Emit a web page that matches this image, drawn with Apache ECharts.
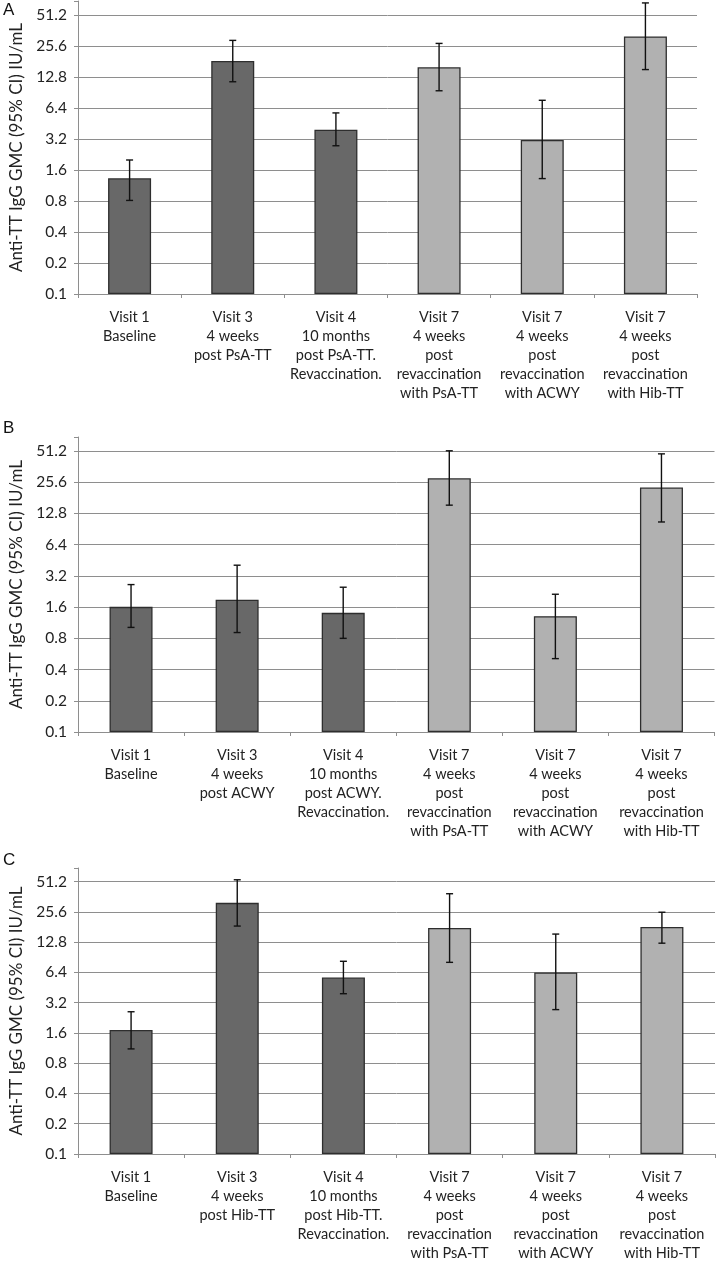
<!DOCTYPE html>
<html>
<head>
<meta charset="utf-8">
<script src="https://cdn.jsdelivr.net/npm/echarts@6/dist/echarts.min.js"></script>
<style>
html,body{margin:0;padding:0;background:#fff;}
#chart{width:716px;height:1263px;}
</style>
</head>
<body>
<div id="chart"></div>
<script>
// ---- data ----
const tickLabels = ['0.1','0.2','0.4','0.8','1.6','3.2','6.4','12.8','25.6','51.2'];
const yAxisTitle = 'Anti-TT IgG GMC (95% CI) IU/mL';
const panelLetters = ['A','B','C'];

const categoriesA = ['Visit 1\nBaseline','Visit 3\n4 weeks\npost PsA-TT','Visit 4\n10 months\npost PsA-TT.\nRevaccination.','Visit 7\n4 weeks\npost\nrevaccination\nwith PsA-TT','Visit 7\n4 weeks\npost\nrevaccination\nwith ACWY','Visit 7\n4 weeks\npost\nrevaccination\nwith Hib-TT'];
const categoriesB = ['Visit 1\nBaseline','Visit 3\n4 weeks\npost ACWY','Visit 4\n10 months\npost ACWY.\nRevaccination.','Visit 7\n4 weeks\npost\nrevaccination\nwith PsA-TT','Visit 7\n4 weeks\npost\nrevaccination\nwith ACWY','Visit 7\n4 weeks\npost\nrevaccination\nwith Hib-TT'];
const categoriesC = ['Visit 1\nBaseline','Visit 3\n4 weeks\npost Hib-TT','Visit 4\n10 months\npost Hib-TT.\nRevaccination.','Visit 7\n4 weeks\npost\nrevaccination\nwith PsA-TT','Visit 7\n4 weeks\npost\nrevaccination\nwith ACWY','Visit 7\n4 weeks\npost\nrevaccination\nwith Hib-TT'];

const gmcA   = [1.33, 18.3, 3.94, 15.9, 3.13, 31.7];
const lowerA = [0.81, 11.5, 2.75, 9.4, 1.32, 15.1];
const upperA = [2.0, 29.0, 5.73, 27.1, 7.6, 67];

const gmcB   = [1.61, 1.89, 1.41, 28.0, 1.31, 22.8];
const lowerB = [1.02, 0.91, 0.80, 15.4, 0.51, 10.6];
const upperB = [2.64, 4.06, 2.49, 51.5, 2.13, 48.1];

const gmcC   = [1.71, 31.5, 5.69, 17.7, 6.40, 18.1];
const lowerC = [1.11, 18.5, 3.93, 8.06, 2.73, 12.5];
const upperC = [2.60, 53.4, 8.26, 38.8, 15.4, 25.4];

// visits 1-4 are primary (dark), visit 7 revaccination (light)
const isRevaccination = [false, false, false, true, true, true];

// ---- build ----
const BASE = 0.1;
const t = v => Math.log2(v / BASE);
const DARK = '#686868', LIGHT = '#b1b1b1';
const GRID = '#8e8e8e';
const FONT = 'Lato';

const panels = [
  {cats: categoriesA, gmc: gmcA, lo: lowerA, hi: upperA, grid: {left: 69, top: 1, right: 19, height: 293}},
  {cats: categoriesB, gmc: gmcB, lo: lowerB, hi: upperB, grid: {left: 69, top: 437, right: 1.5, height: 295}},
  {cats: categoriesC, gmc: gmcC, lo: lowerC, hi: upperC, grid: {left: 69.5, top: 868, right: 1, height: 294.5}}
];

const splitColors = tickLabels.map(() => GRID).concat(['rgba(0,0,0,0)','rgba(0,0,0,0)']);

const option = {
  backgroundColor: '#fff',
  animation: false,
  grid: [], xAxis: [], yAxis: [], series: [],
  graphic: []
};

panels.forEach((p, i) => {
  option.grid.push(Object.assign({containLabel: false}, p.grid));
  option.xAxis.push({
    type: 'category', gridIndex: i, data: p.cats,
    axisLine: {show: true, lineStyle: {color: GRID, width: 1}},
    axisTick: {show: true, interval: 0, length: 4, lineStyle: {color: GRID}},
    axisLabel: {interval: 0, fontFamily: FONT, fontSize: 14.5, lineHeight: 19, color: '#222', margin: 14}
  });
  option.yAxis.push({
    type: 'value', gridIndex: i, min: 0, max: 9.45, interval: 1,
    name: yAxisTitle, nameLocation: 'middle', nameGap: 53,
    nameTextStyle: {fontFamily: FONT, fontSize: 17, color: '#222'},
    axisLine: {show: true, lineStyle: {color: GRID, width: 1}},
    axisTick: {show: true, length: 4, lineStyle: {color: GRID}},
    axisLabel: {
      fontFamily: FONT, fontSize: 15.5, color: '#222', margin: 11, showMaxLabel: true,
      formatter: v => (Number.isInteger(v) && tickLabels[v] !== undefined) ? tickLabels[v] : ''
    },
    splitLine: {show: true, lineStyle: {color: splitColors, width: 1}}
  });
  option.series.push({
    type: 'bar', xAxisIndex: i, yAxisIndex: i, barWidth: 43,
    data: p.gmc.map((v, k) => ({
      value: t(v),
      itemStyle: {color: isRevaccination[k] ? LIGHT : DARK, borderColor: '#2e2e2e', borderWidth: 1.3}
    }))
  });
  option.series.push({
    type: 'custom', xAxisIndex: i, yAxisIndex: i, z: 5,
    encode: {x: 0, y: [1, 2]},
    data: p.gmc.map((v, k) => [k, t(p.lo[k]), t(p.hi[k])]),
    renderItem: (params, api) => {
      const lo = api.coord([api.value(0), api.value(1)]);
      const hi = api.coord([api.value(0), api.value(2)]);
      const w = 3.5;
      const st = {stroke: '#111', lineWidth: 1.4};
      return {type: 'group', children: [
        {type: 'line', shape: {x1: hi[0], y1: hi[1], x2: lo[0], y2: lo[1]}, style: st},
        {type: 'line', shape: {x1: hi[0]-w, y1: hi[1], x2: hi[0]+w, y2: hi[1]}, style: st},
        {type: 'line', shape: {x1: lo[0]-w, y1: lo[1], x2: lo[0]+w, y2: lo[1]}, style: st}
      ]};
    }
  });
});

const letterTops = [2, 420, 852];
panelLetters.forEach((L, i) => {
  option.graphic.push({type: 'text', left: 3, top: letterTops[i],
    style: {text: L, fontFamily: 'Liberation Sans', fontSize: 17, fill: '#111'}});
});

const chart = echarts.init(document.getElementById('chart'), null, {renderer: 'canvas'});
chart.setOption(option);
</script>
</body>
</html>
